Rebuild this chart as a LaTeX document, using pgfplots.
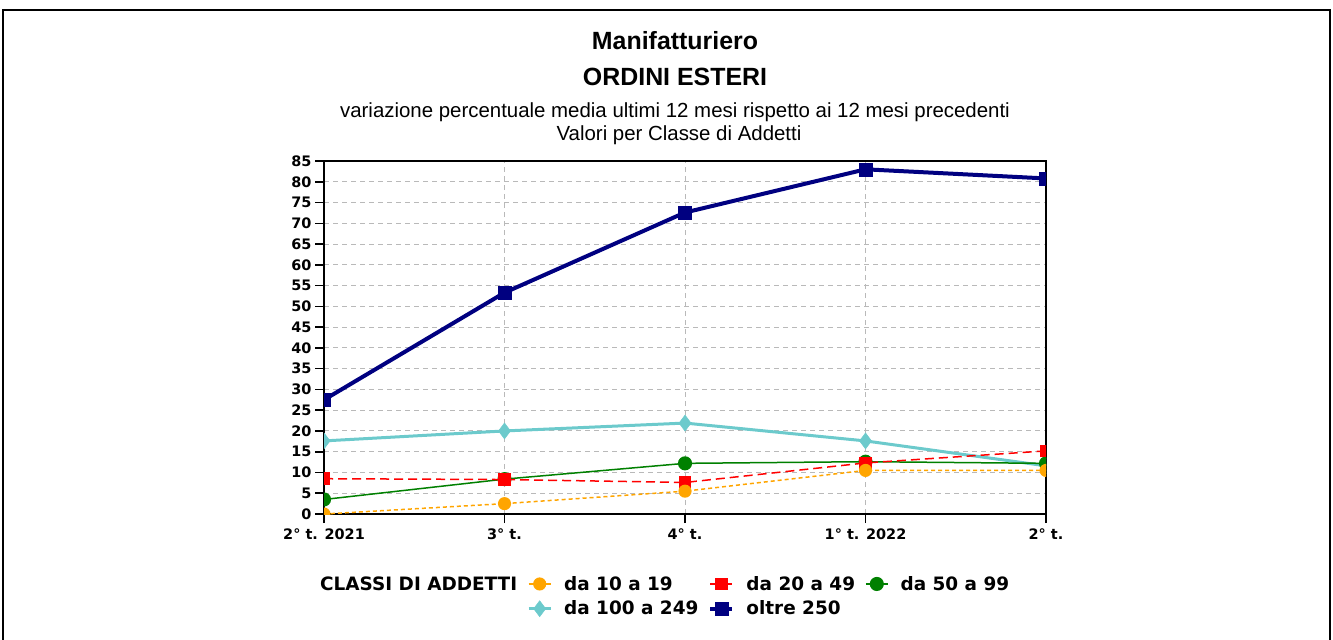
\documentclass[border=0pt]{standalone}
\usepackage{pgfplots}
\pgfplotsset{compat=1.18}
\usepackage{fontspec}
\setmainfont{Liberation Sans}
\newfontfamily\dvs{DejaVu Sans}
\definecolor{cOr}{HTML}{FFA500}
\definecolor{cRe}{HTML}{FF0000}
\definecolor{cGr}{HTML}{008000}
\definecolor{cCy}{HTML}{6CCACC}
\definecolor{cNa}{HTML}{000080}
\pgfplotsset{
 sOr/.style={cOr, line width=1.5bp, dash pattern=on 4bp off 3bp, mark=*, mark size=5.8bp, mark options={solid, fill=cOr, draw=cOr}},
 sRe/.style={cRe, line width=1.5bp, dash pattern=on 9bp off 5bp, mark=square*, mark size=5.5bp, mark options={solid, fill=cRe, draw=cRe}},
 sGr/.style={cGr, line width=1.5bp, mark=*, mark size=6.3bp, mark options={solid, fill=cGr, draw=cGr}},
 sCy/.style={cCy, line width=3bp, mark=diamond*, mark size=8bp, mark options={solid, fill=cCy, draw=cCy, line width=0.5bp}},
 sNa/.style={cNa, line width=4bp, mark=square*, mark size=6.5bp, mark options={solid, fill=cNa, draw=cNa, line width=0.5bp}},
}
\begin{document}
\begin{tikzpicture}[x=1bp,y=1bp]
\useasboundingbox (0,-640) rectangle (1333,0);
\draw[line width=2bp] (3,-641) -- (3,-10) -- (1330,-10) -- (1330,-641);
\node[anchor=base, font=\fontsize{25}{25}\selectfont\bfseries] at (675,-50) {Manifatturiero};
\node[anchor=base, font=\fontsize{25}{25}\selectfont\bfseries] at (675,-86) {ORDINI ESTERI};
\node[anchor=base, font=\fontsize{20.5}{20.5}\selectfont] at (675,-118) {variazione percentuale media ultimi 12 mesi rispetto ai 12 mesi precedenti};
\node[anchor=base, font=\fontsize{20.5}{20.5}\selectfont] at (679,-141) {Valori per Classe di Addetti};
\begin{axis}[
 at={(324bp,-514bp)}, anchor=south west,
 width=722bp, height=353bp, scale only axis,
 xmin=0, xmax=4, ymin=0, ymax=85,
 clip marker paths=true,
 xtick={0,1,2,3,4},
 xticklabels={2° t. 2021, 3° t., 4° t., 1° t. 2022, 2° t.},
 ytick={0,5,...,85},
 tick align=outside, tick pos=left,
 major tick length=9bp,
 grid=major,
 major grid style={dash pattern=on 5bp off 4bp, gray!55, line width=1bp},
 axis line style={line width=1.6bp},
 tick style={black, line width=1.6bp},
 ticklabel style={font=\dvs\bfseries\fontsize{14.5}{14.5}\selectfont},
 xticklabel style={yshift=-2bp},
 /pgf/number format/assume math mode=true,
 legend columns=4,
 legend cell align=left,
 legend style={at={(-0.0263,-0.17)}, anchor=north west, draw=none, fill=none,
   font=\dvs\bfseries\fontsize{18.5}{18.5}\selectfont,
   nodes={inner sep=0pt},
   /tikz/every odd column/.append style={column sep=12bp},
   /tikz/every even column/.append style={column sep=10bp},
   row sep=9bp},
 legend image code/.code={\draw[mark repeat=2,mark phase=2] plot coordinates {(0bp,0bp)(11bp,0bp)(22bp,0bp)};},
]
\addplot[sNa, forget plot] coordinates {(0,27.5)(1,53.3)(2,72.6)(3,83.0)(4,80.8)};
\addplot[sCy, forget plot] coordinates {(0,17.6)(1,20.0)(2,21.9)(3,17.6)(4,11.6)};
\addplot[sGr, forget plot] coordinates {(0,3.5)(1,8.4)(2,12.2)(3,12.6)(4,12.2)};
\addplot[sRe, forget plot] coordinates {(0,8.5)(1,8.3)(2,7.6)(3,12.3)(4,15.2)};
\addplot[sOr, forget plot] coordinates {(0,0)(1,2.5)(2,5.5)(3,10.5)(4,10.5)};
\addlegendimage{empty legend}\addlegendentry{CLASSI DI ADDETTI}
\addlegendimage{sOr, solid}\addlegendentry{da 10 a 19}
\addlegendimage{sRe, solid}\addlegendentry{da 20 a 49}
\addlegendimage{sGr}\addlegendentry{da 50 a 99}
\addlegendimage{empty legend}\addlegendentry{}
\addlegendimage{sCy}\addlegendentry{da 100 a 249}
\addlegendimage{sNa}\addlegendentry{oltre 250}
\end{axis}
\end{tikzpicture}
\end{document}
